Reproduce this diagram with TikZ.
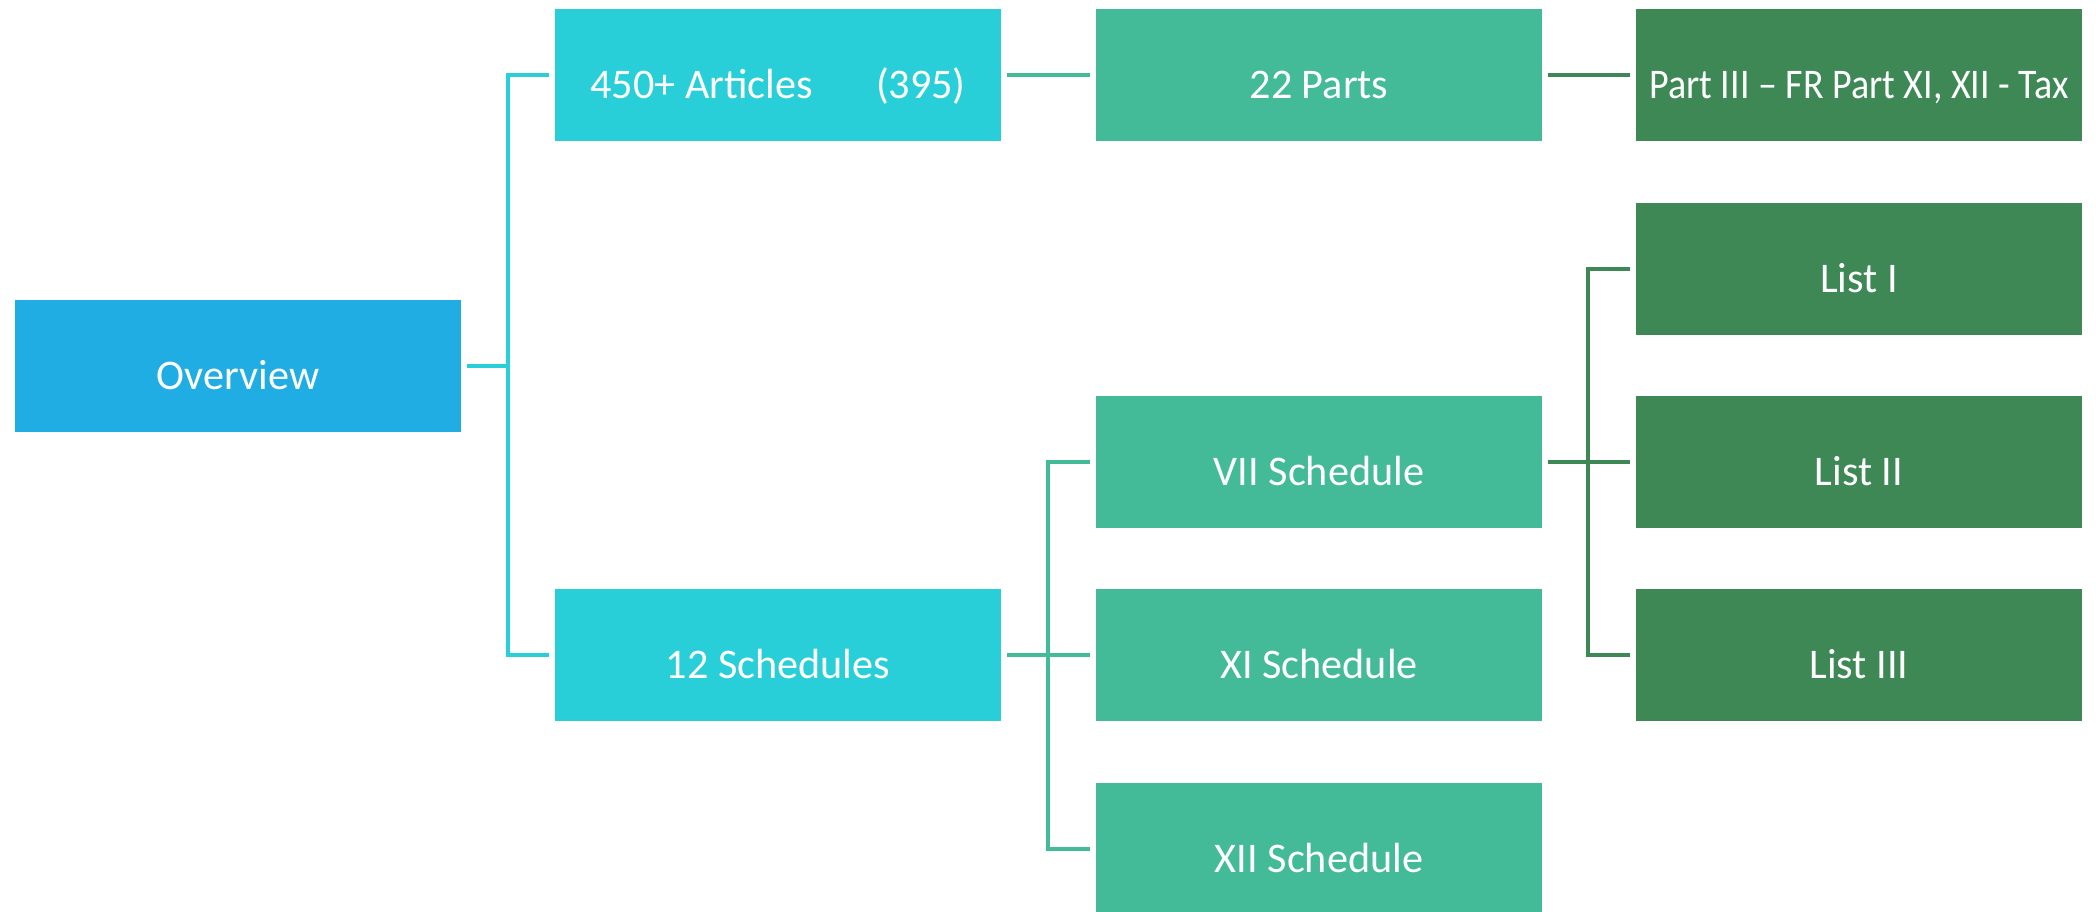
\documentclass[tikz,border=0pt]{standalone}
\usepackage{fontspec}
\setmainfont{Carlito}
\usepackage{tikz}

\definecolor{ovblue}{HTML}{1FADE4}
\definecolor{boxcyan}{HTML}{29CFD8}
\definecolor{boxteal}{HTML}{43BA98}
\definecolor{boxgreen}{HTML}{3E8855}

\tikzset{
  box/.style={fill=#1, draw=none, text=white, minimum width=4.46cm, minimum height=1.32cm,
    inner sep=0pt, text height=13.6pt, text depth=0pt, font=\fontsize{12}{14}\selectfont},
  link/.style={draw=#1, line width=0.4mm, shorten <=0.5mm, shorten >=0.5mm}
}

\begin{document}
\begin{tikzpicture}[x=0.01cm, y=-0.01cm]
    % Page frame (pixel grid of the sheet)
    \useasboundingbox (0,0) rectangle (2096,912);

    % Trunk positions
    \coordinate (t1) at (508,0);
    \coordinate (t2) at (1048,0);
    \coordinate (t3) at (1588,0);

    % Level 0
    \node[box=ovblue] (ov) at (238,366) {Overview};

    % Level 1
    \node[box=boxcyan] (art) at (778,75) {450+ Articles\hspace{1.5em}(395)};
    \node[box=boxcyan] (sch) at (778,655) {12 Schedules};

    % Level 2
    \node[box=boxteal] (parts) at (1319,75) {22 Parts};
    \node[box=boxteal] (vii) at (1319,462) {VII Schedule};
    \node[box=boxteal] (xi) at (1319,655) {XI Schedule};
    \node[box=boxteal] (xii) at (1319,849) {XII Schedule};

    % Level 3
    \node[box=boxgreen] (tax) at (1859,75) {\scalebox{0.9}[1]{Part III -- FR Part XI, XII - Tax}};
    \node[box=boxgreen] (l1) at (1859,269) {List I};
    \node[box=boxgreen] (l2) at (1859,462) {List II};
    \node[box=boxgreen] (l3) at (1859,655) {List III};

    % Connectors
    \draw[link=boxcyan, shorten >=0pt] (ov.east) -- (ov.east -| t1);
    \draw[link=boxcyan] (art.west) -- (art.west -| t1) -- (sch.west -| t1) -- (sch.west);
    \draw[link=boxteal] (art.east) -- (parts.west);
    \draw[link=boxgreen] (parts.east) -- (tax.west);

    \draw[link=boxteal] (vii.west) -- (vii.west -| t2) -- (xii.west -| t2) -- (xii.west);
    \draw[link=boxteal] (sch.east) -- (xi.west);

    \draw[link=boxgreen] (l1.west) -- (l1.west -| t3) -- (l3.west -| t3) -- (l3.west);
    \draw[link=boxgreen] (vii.east) -- (l2.west);
\end{tikzpicture}
\end{document}
